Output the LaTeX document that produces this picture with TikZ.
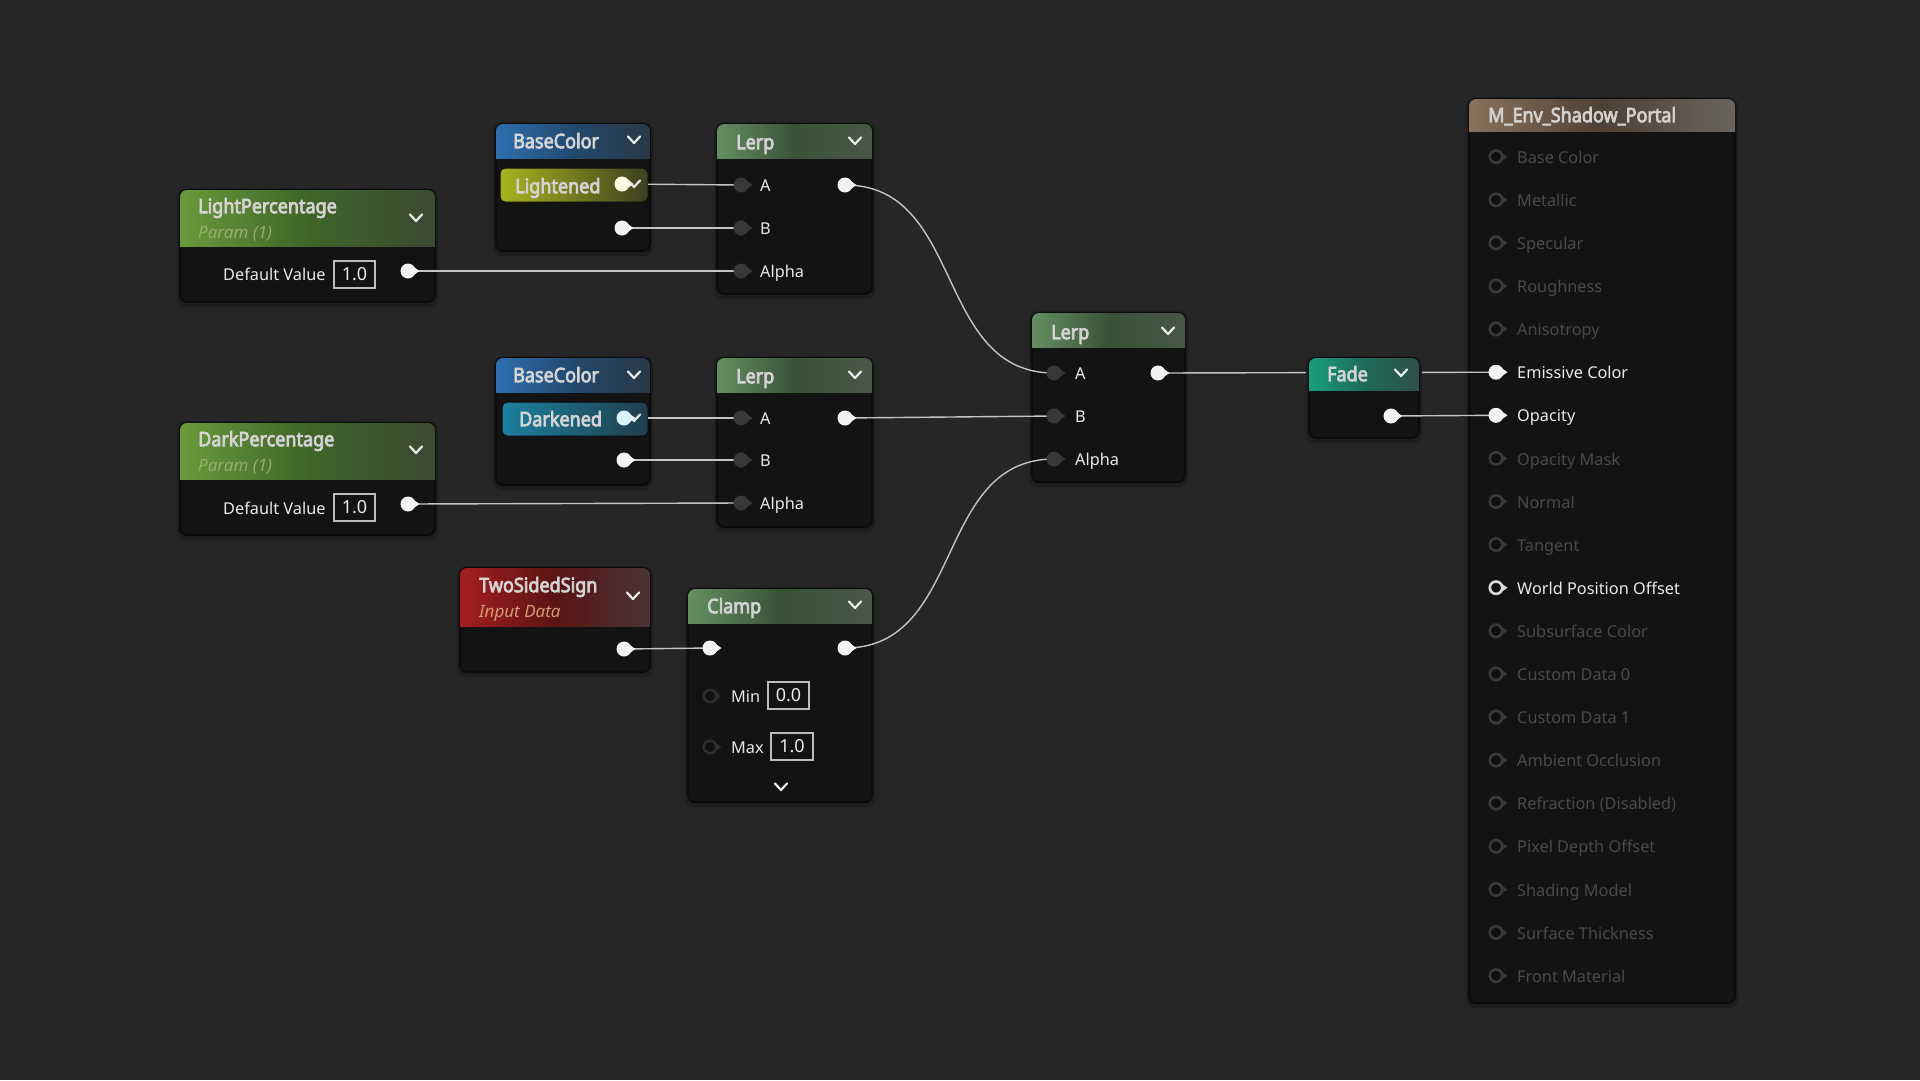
\documentclass[tikz,border=0pt]{standalone}
\usepackage{fontspec}
\setmainfont{Noto Sans}
\newfontfamily\ttlfam[FakeStretch=0.9, FakeBold=3.6]{Noto Sans}
\usetikzlibrary{calc}
\definecolor{bg}{HTML}{262626}
\definecolor{bodyc}{HTML}{121312}
\definecolor{edgec}{HTML}{0B0B0B}
\definecolor{shadowc}{HTML}{1E1E1E}
\definecolor{wirec}{HTML}{C4C4C4}
\definecolor{lblc}{HTML}{EAEAEA}
\definecolor{dimc}{HTML}{4A4A4A}
\definecolor{ttlc}{HTML}{D4D4D4}
\definecolor{pinoff}{HTML}{3A3A3A}
\definecolor{pinin}{HTML}{383838}
\definecolor{pinhole}{HTML}{101010}
\definecolor{pinw}{HTML}{F2F2F2}
\definecolor{valbd}{HTML}{BDBDBD}
\definecolor{paramc}{HTML}{97AD6D}
\definecolor{inputc}{HTML}{D49A76}
% header colours
\definecolor{gL}{HTML}{6B9A3C}\definecolor{gM}{HTML}{3F6528}\definecolor{gR}{HTML}{3A4A32}
\definecolor{mL}{HTML}{648F62}\definecolor{mM}{HTML}{3A5238}\definecolor{mR}{HTML}{485846}
\definecolor{bL}{HTML}{2E6FB0}\definecolor{bM}{HTML}{23496E}\definecolor{bR}{HTML}{2A3846}
\definecolor{yL}{HTML}{A8B41E}\definecolor{yR}{HTML}{3C4020}
\definecolor{cL}{HTML}{1C809F}\definecolor{cR}{HTML}{1F3E4C}
\definecolor{rL}{HTML}{A51E1E}\definecolor{rM}{HTML}{5A1414}\definecolor{rR}{HTML}{4A3434}
\definecolor{tL}{HTML}{17A07E}\definecolor{tM}{HTML}{1E6A58}\definecolor{tR}{HTML}{2E5048}
\definecolor{brL}{HTML}{8A725C}\definecolor{brM}{HTML}{4E4034}\definecolor{brR}{HTML}{6A6560}
\tikzset{
  uebody/.style={draw=edgec, line width=2pt, fill=bodyc, rounded corners=7pt, inner sep=0pt, outer sep=0pt},
  barst/.style={rounded corners=5pt, inner sep=0pt, outer sep=0pt, draw=edgec, line width=1pt},
  wirest/.style={draw=wirec, line width=1.4pt},
  lblst/.style={font=\fontsize{16.3}{19}\selectfont, text=lblc, anchor=mid west, inner sep=0pt, yshift=-4pt},
  dimst/.style={lblst, text=dimc},
  ttlst/.style={font=\ttlfam\fontsize{20}{24}\selectfont, text=ttlc, anchor=mid west, inner sep=0pt, yshift=-4.5pt},
  subst/.style={font=\itshape\fontsize{17}{20}\selectfont, anchor=mid west, inner sep=0pt, yshift=-4pt},
  valst/.style={draw=valbd, line width=1.2pt, minimum width=41pt, minimum height=27pt, inner sep=0pt, font=\fontsize{18}{20}\selectfont, text=lblc},
  chevst/.style={draw=white!92!black, line width=2.2pt, line cap=round, line join=round},
}
\newcommand\uenode[9]{%
  \fill[shadowc, rounded corners=9pt] (#2-3,#3-2) rectangle ({#2+#4+3},{#3+#5+5});
  \node[uebody, minimum width=#4pt, minimum height=#5pt, anchor=north west] (#1) at (#2,#3) {};
  \begin{scope}
    \clip[rounded corners=7pt] (#1.north west) rectangle (#1.south east);
    \shade[left color=#7, right color=#9, middle color=#8] (#1.north west) rectangle ([yshift=-#6pt]#1.north east);
  \end{scope}}
\newcommand\uepin[2]{%
  \fill[#2] (#1) circle (7.5pt);
  \fill[#2] ([xshift=5pt,yshift=4.5pt]#1) -- ([xshift=11.5pt]#1) -- ([xshift=5pt,yshift=-4.5pt]#1) -- cycle;}
\newcommand\uering[2]{%
  \fill[#2] ([xshift=5pt,yshift=4.5pt]#1) -- ([xshift=11.5pt]#1) -- ([xshift=5pt,yshift=-4.5pt]#1) -- cycle;
  \draw[#2, line width=2.6pt, fill=pinhole] (#1) circle (6.2pt);}
\newcommand\chev[2]{\draw[chevst] (#1-6,#2-3.5) -- (#1,#2+3) -- (#1+6,#2-3.5);}
\begin{document}
\begin{tikzpicture}[x=1pt,y=-1pt]
\useasboundingbox (0,0) rectangle (1920,1080);
\fill[bg] (0,0) rectangle (1920,1080);
% ---------- pin coordinates ----------
\coordinate (lpO) at (408,271);
\coordinate (dpO) at (408,504);
\coordinate (ltnP) at (622,184);
\coordinate (bc1O) at (622,228);
\coordinate (dkP) at (624,418);
\coordinate (bc2O) at (624,460);
\coordinate (l1A) at (741,185);\coordinate (l1B) at (741,228);\coordinate (l1Al) at (741,271);\coordinate (l1O) at (845,185);
\coordinate (l2A) at (741,418);\coordinate (l2B) at (741,460);\coordinate (l2Al) at (741,503);\coordinate (l2O) at (845,418);
\coordinate (tssO) at (624,649);
\coordinate (clIn) at (710,648);\coordinate (clO) at (845,648);\coordinate (clMin) at (710,696);\coordinate (clMax) at (710,747);
\coordinate (l3A) at (1054,373);\coordinate (l3B) at (1054,416);\coordinate (l3Al) at (1054,459);\coordinate (l3O) at (1158,373);
\coordinate (fadeO) at (1391,416);
\foreach \i in {0,...,19} \coordinate (m\i) at (1496,{156.7+43.1*\i});
% ---------- nodes ----------
\uenode{lp}{180}{190}{255}{112}{56}{gL}{gM}{gR}
\uenode{dp}{180}{423}{255}{112}{56}{gL}{gM}{gR}
\uenode{bc1}{496}{124}{154}{127}{34}{bL}{bM}{bR}
\uenode{bc2}{496}{358}{154}{127}{34}{bL}{bM}{bR}
\uenode{lerp1}{717}{124}{155}{170}{34}{mL}{mM}{mR}
\uenode{lerp2}{717}{358}{155}{169}{34}{mL}{mM}{mR}
\uenode{tss}{460}{568}{190}{104}{58}{rL}{rM}{rR}
\uenode{clamp}{688}{589}{184}{213}{34}{mL}{mM}{mR}
\uenode{lerp3}{1032}{313}{153}{169}{34}{mL}{mM}{mR}
\uenode{mat}{1469}{99}{266}{904}{32}{brL}{brM}{brR}
% wire behind Fade
\draw[wirest] (l3O) -- (m5);
\uenode{fade}{1309}{358}{110}{80}{32}{tL}{tM}{tR}
% inner bars
\node[barst, left color=yL, right color=yR, minimum width=148pt, minimum height=34pt, anchor=north west] (ltnbar) at (500,168) {};
\node[barst, left color=cL, right color=cR, minimum width=146pt, minimum height=34pt, anchor=north west] (dkbar) at (502,402) {};
% ---------- wires ----------
\draw[wirest, shorten <=26pt] (ltnP) -- (l1A);
\draw[wirest] (bc1O) -- (l1B);
\draw[wirest] (lpO) -- (l1Al);
\draw[wirest] (l1O) .. controls +(120,0) and +(-120,0) .. (l3A);
\draw[wirest, shorten <=24pt] (dkP) -- (l2A);
\draw[wirest] (bc2O) -- (l2B);
\draw[wirest] (dpO) -- (l2Al);
\draw[wirest] (l2O) -- (l3B);
\draw[wirest] (tssO) -- (clIn);
\draw[wirest] (clO) .. controls +(120,0) and +(-120,0) .. (l3Al);
\draw[wirest] (fadeO) -- (m6);
% ---------- LightPercentage ----------
\node[ttlst] (lpT) at (198,206) {LightPercentage};
\node[subst, text=paramc] (lpS) at (198,232) {Param (1)};
\chev{416}{218}
\node[lblst] (lpDV) at (223,274) {Default Value};
\node[valst] (lpV) at (354.5,274.5) {1.0};
\uepin{lpO}{pinw}
% ---------- DarkPercentage ----------
\node[ttlst] (dpT) at (198,439) {DarkPercentage};
\node[subst, text=paramc] (dpS) at (198,465) {Param (1)};
\chev{416}{450}
\node[lblst] (dpDV) at (223,508) {Default Value};
\node[valst] (dpV) at (354.5,507.5) {1.0};
\uepin{dpO}{pinw}
% ---------- BaseColor 1 ----------
\node[ttlst] (bc1T) at (513,141) {BaseColor};
\chev{634}{140}
\node[ttlst] (ltnT) at (515,186) {Lightened};
\uepin{ltnP}{yellow!12!white}
\chev{634}{184}
\uepin{bc1O}{pinw}
% ---------- BaseColor 2 ----------
\node[ttlst] (bc2T) at (513,375) {BaseColor};
\chev{634}{375}
\node[ttlst] (dkT) at (519,419) {Darkened};
\uepin{dkP}{cyan!15!white}
\chev{634}{418}
\uepin{bc2O}{pinw}
% ---------- Lerp 1 ----------
\node[ttlst] (l1T) at (736,142) {Lerp};
\chev{855}{141}
\node[lblst] (l1a) at (760,185) {A};
\node[lblst] (l1b) at (760,228) {B};
\node[lblst] (l1c) at (760,271) {Alpha};
\uepin{l1A}{pinin}\uepin{l1B}{pinin}\uepin{l1Al}{pinin}
\uepin{l1O}{pinw}
% ---------- Lerp 2 ----------
\node[ttlst] (l2T) at (736,376) {Lerp};
\chev{855}{375}
\node[lblst] (l2a) at (760,418) {A};
\node[lblst] (l2b) at (760,460) {B};
\node[lblst] (l2c) at (760,503) {Alpha};
\uepin{l2A}{pinin}\uepin{l2B}{pinin}\uepin{l2Al}{pinin}
\uepin{l2O}{pinw}
% ---------- TwoSidedSign ----------
\node[ttlst] (tssT) at (479,585) {TwoSidedSign};
\node[subst, text=inputc] (tssS) at (479,611) {Input Data};
\chev{633}{596}
\uepin{tssO}{pinw}
% ---------- Clamp ----------
\node[ttlst] (clT) at (707,606) {Clamp};
\chev{855}{605}
\uepin{clIn}{pinw}
\uepin{clO}{pinw}
\uering{clMin}{pinoff!80!black}
\uering{clMax}{pinoff!80!black}
\node[lblst] (clMinL) at (731,696) {Min};
\node[valst] (clMinV) at (788.5,695.5) {0.0};
\node[lblst] (clMaxL) at (731,747) {Max};
\node[valst, minimum width=42pt] (clMaxV) at (792,746.5) {1.0};
\chev{781}{787}
% ---------- Lerp 3 ----------
\node[ttlst] (l3T) at (1051,332) {Lerp};
\chev{1168}{331}
\node[lblst] (l3a) at (1075,373) {A};
\node[lblst] (l3b) at (1075,416) {B};
\node[lblst] (l3c) at (1075,459) {Alpha};
\uepin{l3A}{pinin}\uepin{l3B}{pinin}\uepin{l3Al}{pinin}
\uepin{l3O}{pinw}
% ---------- Fade ----------
\node[ttlst] (fadeT) at (1327,374) {Fade};
\chev{1401}{373}
\uepin{fadeO}{pinw}
% ---------- Material ----------
\node[ttlst, text=ttlc!95!brown] (matT) at (1488,115) {M\_Env\_Shadow\_Portal};
\foreach \i in {0,1,2,3,4,7,8,9,11,12,13,14,15,16,17,18,19} {\uering{m\i}{pinoff}}
\uepin{m5}{pinw}
\uepin{m6}{pinw}
\uering{m10}{pinw!90!black}
\foreach \i/\t in {0/Base Color,1/Metallic,2/Specular,3/Roughness,4/Anisotropy,7/Opacity Mask,8/Normal,9/Tangent,11/Subsurface Color,12/Custom Data 0,13/Custom Data 1,14/Ambient Occlusion,15/Refraction (Disabled),16/Pixel Depth Offset,17/Shading Model,18/Surface Thickness,19/Front Material}
  {\node[dimst] (ml\i) at ($(m\i)+(21,0)$) {\t};}
\node[lblst] (ml5) at ($(m5)+(21,0)$) {Emissive Color};
\node[lblst] (ml6) at ($(m6)+(21,0)$) {Opacity};
\node[lblst] (ml10) at ($(m10)+(21,0)$) {World Position Offset};
\end{tikzpicture}
\end{document}
